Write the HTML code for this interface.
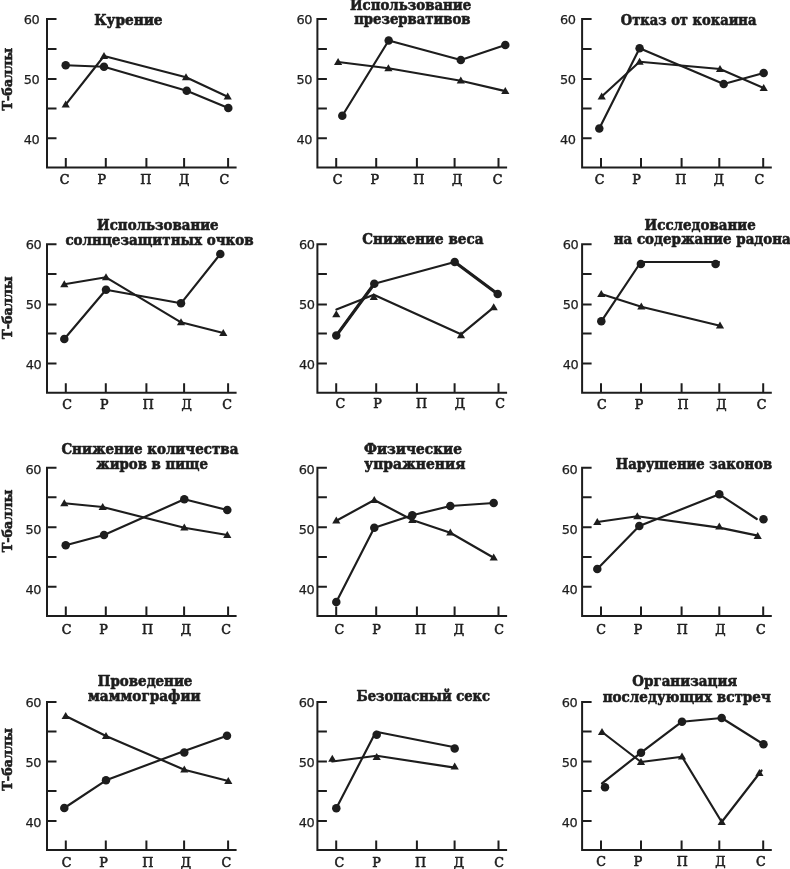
<!DOCTYPE html>
<html lang="ru"><head><meta charset="utf-8"><title>Т-баллы</title>
<style>html,body{margin:0;padding:0;background:#fff}svg{display:block;will-change:transform}.t{font-family:"DejaVu Serif","Liberation Serif",serif;font-weight:bold;fill:#1d1d1d;stroke:#1d1d1d;stroke-width:.6;stroke-linejoin:round}.y{font-family:"DejaVu Sans","Liberation Sans",sans-serif;fill:#1d1d1d;stroke:#1d1d1d;stroke-width:.25;letter-spacing:-.5px}.x{font-family:"DejaVu Serif","Liberation Serif",serif;fill:#1d1d1d;stroke:#1d1d1d;stroke-width:.6;stroke-linejoin:round}.ax{stroke:#1d1d1d;stroke-width:2;fill:none;stroke-linecap:butt;stroke-linejoin:miter}.ln{stroke:#1d1d1d;stroke-width:2.15;fill:none;stroke-linejoin:round;stroke-linecap:round}.m{fill:#1d1d1d}</style></head><body>
<svg width="790" height="869" viewBox="0 0 790 869">
<rect width="790" height="869" fill="#fff"/>
<g>
<path class="ax" d="M56.5 19.1H47.0V167.5H236.6M47.0 49.0H56.5M47.0 79.0H56.5M47.0 108.6H56.5M47.0 138.3H56.5M65.8 167.5V158.0M105.8 167.5V158.0M146.4 167.5V158.0M184.1 167.5V158.0M228.1 167.5V158.0"/>
<text class="y" font-size="12.9" text-anchor="end" x="39.1" y="23.6">60</text>
<text class="y" font-size="12.9" text-anchor="end" x="39.1" y="83.6">50</text>
<text class="y" font-size="12.9" text-anchor="end" x="39.1" y="143.7">40</text>
<text class="x" font-size="12.7" text-anchor="middle" x="64.7" y="184.2">С</text>
<text class="x" font-size="12.7" text-anchor="middle" x="101.7" y="184.2">Р</text>
<text class="x" font-size="12.7" text-anchor="middle" x="145.8" y="184.2">П</text>
<text class="x" font-size="12.7" text-anchor="middle" x="184.1" y="184.2">Д</text>
<text class="x" font-size="12.7" text-anchor="middle" x="224.4" y="184.2">С</text>
<text class="t" font-size="13.6" text-anchor="middle" transform="translate(11.8 79.2) rotate(-90)" textLength="62.6" lengthAdjust="spacingAndGlyphs">Т-баллы</text>
<text class="t" font-size="13.9" x="94.2" y="24.6" textLength="68.3" lengthAdjust="spacingAndGlyphs">Курение</text>
<polyline class="ln" points="65.7,104.7 104.0,56.0 186.0,77.3 227.7,96.7"/>
<polyline class="ln" points="65.7,65.3 104.0,66.7 186.7,90.7 228.3,108.0"/>
<path class="m" d="M65.7 100.6l4.1 7h-8.2z"/>
<path class="m" d="M104.0 51.9l4.1 7h-8.2z"/>
<path class="m" d="M186.0 73.2l4.1 7h-8.2z"/>
<path class="m" d="M227.7 92.6l4.1 7h-8.2z"/>
<circle class="m" cx="65.7" cy="65.3" r="4.25"/>
<circle class="m" cx="104.0" cy="66.7" r="4.25"/>
<circle class="m" cx="186.7" cy="90.7" r="4.25"/>
<circle class="m" cx="228.3" cy="108.0" r="4.25"/>
</g>
<g>
<path class="ax" d="M326.9 19.1H317.4V167.5H507.1M317.4 49.0H326.9M317.4 79.0H326.9M317.4 108.6H326.9M317.4 138.3H326.9M336.2 167.5V158.0M376.2 167.5V158.0M416.9 167.5V158.0M454.6 167.5V158.0M498.5 167.5V158.0"/>
<text class="y" font-size="12.9" text-anchor="end" x="312.0" y="23.6">60</text>
<text class="y" font-size="12.9" text-anchor="end" x="312.0" y="83.7">50</text>
<text class="y" font-size="12.9" text-anchor="end" x="312.0" y="143.7">40</text>
<text class="x" font-size="12.7" text-anchor="middle" x="337.7" y="184.2">С</text>
<text class="x" font-size="12.7" text-anchor="middle" x="374.7" y="184.2">Р</text>
<text class="x" font-size="12.7" text-anchor="middle" x="418.8" y="184.2">П</text>
<text class="x" font-size="12.7" text-anchor="middle" x="457.1" y="184.2">Д</text>
<text class="x" font-size="12.7" text-anchor="middle" x="497.5" y="184.2">С</text>
<text class="t" font-size="13.9" x="350.0" y="9.8" textLength="121.2" lengthAdjust="spacingAndGlyphs">Использование</text>
<text class="t" font-size="13.9" x="354.2" y="24.0" textLength="116.2" lengthAdjust="spacingAndGlyphs">презервативов</text>
<polyline class="ln" points="338.1,62.0 388.4,68.3 460.8,80.7 505.3,91.1"/>
<polyline class="ln" points="342.3,115.7 388.7,40.5 460.8,60.0 505.3,45.0"/>
<path class="m" d="M338.1 57.9l4.1 7h-8.2z"/>
<path class="m" d="M388.4 64.2l4.1 7h-8.2z"/>
<path class="m" d="M460.8 76.6l4.1 7h-8.2z"/>
<path class="m" d="M505.3 87.0l4.1 7h-8.2z"/>
<circle class="m" cx="342.3" cy="115.7" r="4.25"/>
<circle class="m" cx="388.7" cy="40.5" r="4.25"/>
<circle class="m" cx="460.8" cy="60.0" r="4.25"/>
<circle class="m" cx="505.3" cy="45.0" r="4.25"/>
</g>
<g>
<path class="ax" d="M591.6 19.1H582.1V167.5H771.8M582.1 49.0H591.6M582.1 79.0H591.6M582.1 108.6H591.6M582.1 138.3H591.6M601.0 167.5V158.0M641.0 167.5V158.0M681.6 167.5V158.0M719.3 167.5V158.0M763.2 167.5V158.0"/>
<text class="y" font-size="12.9" text-anchor="end" x="575.4" y="23.6">60</text>
<text class="y" font-size="12.9" text-anchor="end" x="575.4" y="83.7">50</text>
<text class="y" font-size="12.9" text-anchor="end" x="575.4" y="143.7">40</text>
<text class="x" font-size="12.7" text-anchor="middle" x="599.6" y="184.2">С</text>
<text class="x" font-size="12.7" text-anchor="middle" x="636.6" y="184.2">Р</text>
<text class="x" font-size="12.7" text-anchor="middle" x="680.7" y="184.2">П</text>
<text class="x" font-size="12.7" text-anchor="middle" x="719.0" y="184.2">Д</text>
<text class="x" font-size="12.7" text-anchor="middle" x="759.4" y="184.2">С</text>
<text class="t" font-size="13.9" x="620.8" y="24.6" textLength="135.6" lengthAdjust="spacingAndGlyphs">Отказ от кокаина</text>
<polyline class="ln" points="601.7,96.5 639.6,61.8 720.0,69.0 763.7,88.0"/>
<polyline class="ln" points="599.3,128.5 639.6,48.2 723.7,84.0 763.7,73.0"/>
<path class="m" d="M601.7 92.4l4.1 7h-8.2z"/>
<path class="m" d="M639.6 57.7l4.1 7h-8.2z"/>
<path class="m" d="M720.0 64.9l4.1 7h-8.2z"/>
<path class="m" d="M763.7 83.9l4.1 7h-8.2z"/>
<circle class="m" cx="599.3" cy="128.5" r="4.25"/>
<circle class="m" cx="639.6" cy="48.2" r="4.25"/>
<circle class="m" cx="723.7" cy="84.0" r="4.25"/>
<circle class="m" cx="763.7" cy="73.0" r="4.25"/>
</g>
<g>
<path class="ax" d="M56.5 244.3H47.0V392.7H236.6M47.0 274.0H56.5M47.0 304.4H56.5M47.0 333.5H56.5M47.0 363.6H56.5M65.8 392.7V383.2M105.8 392.7V383.2M146.4 392.7V383.2M184.1 392.7V383.2M228.1 392.7V383.2"/>
<text class="y" font-size="12.9" text-anchor="end" x="41.1" y="249.1">60</text>
<text class="y" font-size="12.9" text-anchor="end" x="41.1" y="309.1">50</text>
<text class="y" font-size="12.9" text-anchor="end" x="41.1" y="369.2">40</text>
<text class="x" font-size="12.7" text-anchor="middle" x="67.2" y="408.5">С</text>
<text class="x" font-size="12.7" text-anchor="middle" x="104.2" y="408.5">Р</text>
<text class="x" font-size="12.7" text-anchor="middle" x="148.3" y="408.5">П</text>
<text class="x" font-size="12.7" text-anchor="middle" x="186.7" y="408.5">Д</text>
<text class="x" font-size="12.7" text-anchor="middle" x="227.0" y="408.5">С</text>
<text class="t" font-size="13.6" text-anchor="middle" transform="translate(11.8 307.6) rotate(-90)" textLength="62.6" lengthAdjust="spacingAndGlyphs">Т-баллы</text>
<text class="t" font-size="13.9" x="97.1" y="229.8" textLength="121.5" lengthAdjust="spacingAndGlyphs">Использование</text>
<text class="t" font-size="13.9" x="65.4" y="244.9" textLength="188.2" lengthAdjust="spacingAndGlyphs">солнцезащитных очков</text>
<polyline class="ln" points="64.3,284.3 106.0,277.3 181.0,322.3 223.3,333.0"/>
<polyline class="ln" points="64.3,339.0 106.0,289.7 181.0,303.3 220.3,254.0"/>
<path class="m" d="M64.3 280.2l4.1 7h-8.2z"/>
<path class="m" d="M106.0 273.2l4.1 7h-8.2z"/>
<path class="m" d="M181.0 318.2l4.1 7h-8.2z"/>
<path class="m" d="M223.3 328.9l4.1 7h-8.2z"/>
<circle class="m" cx="64.3" cy="339.0" r="4.25"/>
<circle class="m" cx="106.0" cy="289.7" r="4.25"/>
<circle class="m" cx="181.0" cy="303.3" r="4.25"/>
<circle class="m" cx="220.3" cy="254.0" r="4.25"/>
</g>
<g>
<path class="ax" d="M326.9 244.3H317.4V392.7H507.1M317.4 274.0H326.9M317.4 304.4H326.9M317.4 333.5H326.9M317.4 363.6H326.9M336.2 392.7V383.2M376.2 392.7V383.2M416.9 392.7V383.2M454.6 392.7V383.2M498.5 392.7V383.2"/>
<text class="y" font-size="12.9" text-anchor="end" x="314.5" y="249.0">60</text>
<text class="y" font-size="12.9" text-anchor="end" x="314.5" y="309.0">50</text>
<text class="y" font-size="12.9" text-anchor="end" x="314.5" y="369.1">40</text>
<text class="x" font-size="12.7" text-anchor="middle" x="340.4" y="408.2">С</text>
<text class="x" font-size="12.7" text-anchor="middle" x="377.4" y="408.2">Р</text>
<text class="x" font-size="12.7" text-anchor="middle" x="421.5" y="408.2">П</text>
<text class="x" font-size="12.7" text-anchor="middle" x="459.8" y="408.2">Д</text>
<text class="x" font-size="12.7" text-anchor="middle" x="500.2" y="408.2">С</text>
<text class="t" font-size="13.9" x="362.3" y="244.3" textLength="121.1" lengthAdjust="spacingAndGlyphs">Снижение веса</text>
<polyline class="ln" points="336.4,309.5 373.8,294.8 461.0,334.3 493.7,307.3"/>
<polyline class="ln" points="336.3,335.6 374.3,283.7 454.7,262.0 497.7,294.0"/>
<path class="ln" style="stroke-width:3.2" d="M336.3 335.6L374.3 283.7"/>
<path class="ln" style="stroke-width:3.2" d="M454.7 262.0L497.7 294.0"/>
<path class="m" d="M336.3 310.2l4.1 7h-8.2z"/>
<path class="m" d="M373.8 292.9l4.1 7h-8.2z"/>
<path class="m" d="M461.0 331.2l4.1 7h-8.2z"/>
<path class="m" d="M493.7 303.2l4.1 7h-8.2z"/>
<circle class="m" cx="336.3" cy="335.6" r="4.25"/>
<circle class="m" cx="374.3" cy="283.7" r="4.25"/>
<circle class="m" cx="454.7" cy="262.0" r="4.25"/>
<circle class="m" cx="497.7" cy="294.0" r="4.25"/>
</g>
<g>
<path class="ax" d="M591.6 244.3H582.1V392.7H771.8M582.1 274.0H591.6M582.1 304.4H591.6M582.1 333.5H591.6M582.1 363.6H591.6M601.0 392.7V383.2M641.0 392.7V383.2M681.6 392.7V383.2M719.3 392.7V383.2M763.2 392.7V383.2"/>
<text class="y" font-size="12.9" text-anchor="end" x="578.1" y="249.1">60</text>
<text class="y" font-size="12.9" text-anchor="end" x="578.1" y="309.1">50</text>
<text class="y" font-size="12.9" text-anchor="end" x="578.1" y="369.2">40</text>
<text class="x" font-size="12.7" text-anchor="middle" x="601.9" y="408.5">С</text>
<text class="x" font-size="12.7" text-anchor="middle" x="638.9" y="408.5">Р</text>
<text class="x" font-size="12.7" text-anchor="middle" x="683.0" y="408.5">П</text>
<text class="x" font-size="12.7" text-anchor="middle" x="721.3" y="408.5">Д</text>
<text class="x" font-size="12.7" text-anchor="middle" x="761.7" y="408.5">С</text>
<text class="t" font-size="13.9" x="644.6" y="229.6" textLength="111.1" lengthAdjust="spacingAndGlyphs">Исследование</text>
<text class="t" font-size="13.9" x="613.7" y="244.2" textLength="177.1" lengthAdjust="spacingAndGlyphs">на содержание радона</text>
<polyline class="ln" points="601.3,294.0 641.3,306.7 720.0,325.7"/>
<polyline class="ln" points="601.3,321.3 640.9,262.0 719.0,262.0"/>
<path class="m" d="M601.3 289.9l4.1 7h-8.2z"/>
<path class="m" d="M641.3 302.6l4.1 7h-8.2z"/>
<path class="m" d="M720.0 321.6l4.1 7h-8.2z"/>
<circle class="m" cx="601.3" cy="321.3" r="4.25"/>
<circle class="m" cx="640.9" cy="264.1" r="4.25"/>
<circle class="m" cx="715.6" cy="264.1" r="4.25"/>
</g>
<g>
<path class="ax" d="M56.5 467.8H47.0V615.9H236.6M47.0 497.2H56.5M47.0 527.2H56.5M47.0 556.9H56.5M47.0 586.8H56.5M65.8 615.9V606.4M105.8 615.9V606.4M146.4 615.9V606.4M184.1 615.9V606.4M228.1 615.9V606.4"/>
<text class="y" font-size="12.9" text-anchor="end" x="40.9" y="473.7">60</text>
<text class="y" font-size="12.9" text-anchor="end" x="40.9" y="533.7">50</text>
<text class="y" font-size="12.9" text-anchor="end" x="40.9" y="593.8">40</text>
<text class="x" font-size="12.7" text-anchor="middle" x="66.5" y="633.8">С</text>
<text class="x" font-size="12.7" text-anchor="middle" x="103.5" y="633.8">Р</text>
<text class="x" font-size="12.7" text-anchor="middle" x="147.6" y="633.8">П</text>
<text class="x" font-size="12.7" text-anchor="middle" x="185.9" y="633.8">Д</text>
<text class="x" font-size="12.7" text-anchor="middle" x="226.2" y="633.8">С</text>
<text class="t" font-size="13.6" text-anchor="middle" transform="translate(11.8 521.0) rotate(-90)" textLength="62.6" lengthAdjust="spacingAndGlyphs">Т-баллы</text>
<text class="t" font-size="13.9" x="61.4" y="454.2" textLength="177.0" lengthAdjust="spacingAndGlyphs">Снижение количества</text>
<text class="t" font-size="13.9" x="96.2" y="468.9" textLength="111.8" lengthAdjust="spacingAndGlyphs">жиров в пище</text>
<polyline class="ln" points="64.3,503.3 102.7,507.0 184.3,527.7 227.3,535.0"/>
<polyline class="ln" points="65.7,545.3 104.0,535.0 184.3,499.3 227.3,510.0"/>
<path class="m" d="M64.3 499.2l4.1 7h-8.2z"/>
<path class="m" d="M102.7 502.9l4.1 7h-8.2z"/>
<path class="m" d="M184.3 523.6l4.1 7h-8.2z"/>
<path class="m" d="M227.3 530.9l4.1 7h-8.2z"/>
<circle class="m" cx="65.7" cy="545.3" r="4.25"/>
<circle class="m" cx="104.0" cy="535.0" r="4.25"/>
<circle class="m" cx="184.3" cy="499.3" r="4.25"/>
<circle class="m" cx="227.3" cy="510.0" r="4.25"/>
</g>
<g>
<path class="ax" d="M326.9 467.8H317.4V615.9H507.1M317.4 497.2H326.9M317.4 527.2H326.9M317.4 556.9H326.9M317.4 586.8H326.9M336.2 615.9V606.4M376.2 615.9V606.4M416.9 615.9V606.4M454.6 615.9V606.4M498.5 615.9V606.4"/>
<text class="y" font-size="12.9" text-anchor="end" x="314.2" y="473.7">60</text>
<text class="y" font-size="12.9" text-anchor="end" x="314.2" y="533.7">50</text>
<text class="y" font-size="12.9" text-anchor="end" x="314.2" y="593.8">40</text>
<text class="x" font-size="12.7" text-anchor="middle" x="339.4" y="633.8">С</text>
<text class="x" font-size="12.7" text-anchor="middle" x="376.4" y="633.8">Р</text>
<text class="x" font-size="12.7" text-anchor="middle" x="420.6" y="633.8">П</text>
<text class="x" font-size="12.7" text-anchor="middle" x="458.9" y="633.8">Д</text>
<text class="x" font-size="12.7" text-anchor="middle" x="499.2" y="633.8">С</text>
<text class="t" font-size="13.9" x="363.9" y="454.0" textLength="98.1" lengthAdjust="spacingAndGlyphs">Физические</text>
<text class="t" font-size="13.9" x="364.3" y="468.9" textLength="101.1" lengthAdjust="spacingAndGlyphs">упражнения</text>
<polyline class="ln" points="336.3,520.7 374.3,500.0 412.3,520.0 450.3,532.7 493.7,557.7"/>
<polyline class="ln" points="336.3,602.0 374.3,527.7 412.3,515.3 450.3,506.0 493.7,503.0"/>
<path class="m" d="M336.3 516.6l4.1 7h-8.2z"/>
<path class="m" d="M374.3 495.9l4.1 7h-8.2z"/>
<path class="m" d="M412.3 515.9l4.1 7h-8.2z"/>
<path class="m" d="M450.3 528.6l4.1 7h-8.2z"/>
<path class="m" d="M493.7 553.6l4.1 7h-8.2z"/>
<circle class="m" cx="336.3" cy="602.0" r="4.25"/>
<circle class="m" cx="374.3" cy="527.7" r="4.25"/>
<circle class="m" cx="412.3" cy="515.3" r="4.25"/>
<circle class="m" cx="450.3" cy="506.0" r="4.25"/>
<circle class="m" cx="493.7" cy="503.0" r="4.25"/>
</g>
<g>
<path class="ax" d="M591.6 467.8H582.1V615.9H771.8M582.1 497.2H591.6M582.1 527.2H591.6M582.1 556.9H591.6M582.1 586.8H591.6M601.0 615.9V606.4M641.0 615.9V606.4M681.6 615.9V606.4M719.3 615.9V606.4M763.2 615.9V606.4"/>
<text class="y" font-size="12.9" text-anchor="end" x="577.1" y="473.7">60</text>
<text class="y" font-size="12.9" text-anchor="end" x="577.1" y="533.7">50</text>
<text class="y" font-size="12.9" text-anchor="end" x="577.1" y="593.8">40</text>
<text class="x" font-size="12.7" text-anchor="middle" x="601.1" y="633.8">С</text>
<text class="x" font-size="12.7" text-anchor="middle" x="638.1" y="633.8">Р</text>
<text class="x" font-size="12.7" text-anchor="middle" x="682.2" y="633.8">П</text>
<text class="x" font-size="12.7" text-anchor="middle" x="720.5" y="633.8">Д</text>
<text class="x" font-size="12.7" text-anchor="middle" x="760.9" y="633.8">С</text>
<text class="t" font-size="13.9" x="615.7" y="469.1" textLength="156.5" lengthAdjust="spacingAndGlyphs">Нарушение законов</text>
<polyline class="ln" points="597.3,522.0 637.3,516.3 719.3,527.6 757.7,535.6"/>
<polyline class="ln" points="597.3,569.0 639.3,526.0 719.3,494.3 756.8,519.0"/>
<path class="m" d="M597.3 517.9l4.1 7h-8.2z"/>
<path class="m" d="M637.3 512.2l4.1 7h-8.2z"/>
<path class="m" d="M719.3 522.6l4.1 7h-8.2z"/>
<path class="m" d="M757.7 532.1l4.1 7h-8.2z"/>
<circle class="m" cx="597.3" cy="569.0" r="4.25"/>
<circle class="m" cx="639.3" cy="526.0" r="4.25"/>
<circle class="m" cx="719.3" cy="494.3" r="4.25"/>
<circle class="m" cx="763.5" cy="519.2" r="4.25"/>
</g>
<g>
<path class="ax" d="M56.5 701.9H47.0V849.9H236.6M47.0 731.4H56.5M47.0 761.5H56.5M47.0 791.0H56.5M47.0 820.9H56.5M65.8 849.9V840.4M105.8 849.9V840.4M146.4 849.9V840.4M184.1 849.9V840.4M228.1 849.9V840.4"/>
<text class="y" font-size="12.9" text-anchor="end" x="40.9" y="707.0">60</text>
<text class="y" font-size="12.9" text-anchor="end" x="40.9" y="767.1">50</text>
<text class="y" font-size="12.9" text-anchor="end" x="40.9" y="827.2">40</text>
<text class="x" font-size="12.7" text-anchor="middle" x="66.6" y="866.7">С</text>
<text class="x" font-size="12.7" text-anchor="middle" x="103.6" y="866.7">Р</text>
<text class="x" font-size="12.7" text-anchor="middle" x="147.7" y="866.7">П</text>
<text class="x" font-size="12.7" text-anchor="middle" x="186.0" y="866.7">Д</text>
<text class="x" font-size="12.7" text-anchor="middle" x="226.3" y="866.7">С</text>
<text class="t" font-size="13.6" text-anchor="middle" transform="translate(11.8 759.4) rotate(-90)" textLength="62.6" lengthAdjust="spacingAndGlyphs">Т-баллы</text>
<text class="t" font-size="13.9" x="97.8" y="686.0" textLength="94.6" lengthAdjust="spacingAndGlyphs">Проведение</text>
<text class="t" font-size="13.9" x="88.0" y="701.4" textLength="112.6" lengthAdjust="spacingAndGlyphs">маммографии</text>
<polyline class="ln" points="65.7,716.0 106.0,736.0 184.3,769.7 228.3,781.0"/>
<polyline class="ln" points="64.3,808.0 106.0,780.3 184.3,751.0 227.0,735.7"/>
<path class="m" d="M65.7 711.9l4.1 7h-8.2z"/>
<path class="m" d="M106.0 731.9l4.1 7h-8.2z"/>
<path class="m" d="M184.3 765.6l4.1 7h-8.2z"/>
<path class="m" d="M228.3 776.9l4.1 7h-8.2z"/>
<circle class="m" cx="64.3" cy="808.0" r="4.25"/>
<circle class="m" cx="106.0" cy="780.3" r="4.25"/>
<circle class="m" cx="184.3" cy="752.4" r="4.25"/>
<circle class="m" cx="227.0" cy="735.7" r="4.25"/>
</g>
<g>
<path class="ax" d="M326.9 701.9H317.4V849.9H507.1M317.4 731.4H326.9M317.4 761.5H326.9M317.4 791.0H326.9M317.4 820.9H326.9M336.2 849.9V840.4M376.2 849.9V840.4M416.9 849.9V840.4M454.6 849.9V840.4M498.5 849.9V840.4"/>
<text class="y" font-size="12.9" text-anchor="end" x="314.1" y="707.0">60</text>
<text class="y" font-size="12.9" text-anchor="end" x="314.1" y="767.1">50</text>
<text class="y" font-size="12.9" text-anchor="end" x="314.1" y="827.2">40</text>
<text class="x" font-size="12.7" text-anchor="middle" x="339.4" y="866.5">С</text>
<text class="x" font-size="12.7" text-anchor="middle" x="376.4" y="866.5">Р</text>
<text class="x" font-size="12.7" text-anchor="middle" x="420.6" y="866.5">П</text>
<text class="x" font-size="12.7" text-anchor="middle" x="458.9" y="866.5">Д</text>
<text class="x" font-size="12.7" text-anchor="middle" x="499.2" y="866.5">С</text>
<text class="t" font-size="13.9" x="356.5" y="701.4" textLength="133.5" lengthAdjust="spacingAndGlyphs">Безопасный секс</text>
<polyline class="ln" points="332.3,761.5 376.7,755.8 454.6,767.6"/>
<polyline class="ln" points="336.3,808.3 375.9,731.8 454.6,747.2"/>
<path class="m" d="M332.3 754.7l4.1 7h-8.2z"/>
<path class="m" d="M376.7 753.1l4.1 7h-8.2z"/>
<path class="m" d="M454.7 762.5l4.1 7h-8.2z"/>
<circle class="m" cx="336.3" cy="808.3" r="4.25"/>
<circle class="m" cx="376.7" cy="734.8" r="4.25"/>
<circle class="m" cx="454.7" cy="748.5" r="4.25"/>
</g>
<g>
<path class="ax" d="M591.6 701.9H582.1V849.9H771.8M582.1 731.4H591.6M582.1 761.5H591.6M582.1 791.0H591.6M582.1 820.9H591.6M601.0 849.9V840.4M641.0 849.9V840.4M681.6 849.9V840.4M719.3 849.9V840.4M763.2 849.9V840.4"/>
<text class="y" font-size="12.9" text-anchor="end" x="577.2" y="707.0">60</text>
<text class="y" font-size="12.9" text-anchor="end" x="577.2" y="767.1">50</text>
<text class="y" font-size="12.9" text-anchor="end" x="577.2" y="827.2">40</text>
<text class="x" font-size="12.7" text-anchor="middle" x="601.1" y="866.3">С</text>
<text class="x" font-size="12.7" text-anchor="middle" x="638.1" y="866.3">Р</text>
<text class="x" font-size="12.7" text-anchor="middle" x="682.2" y="866.3">П</text>
<text class="x" font-size="12.7" text-anchor="middle" x="720.5" y="866.3">Д</text>
<text class="x" font-size="12.7" text-anchor="middle" x="760.9" y="866.3">С</text>
<text class="t" font-size="13.9" x="632.3" y="686.1" textLength="105.0" lengthAdjust="spacingAndGlyphs">Организация</text>
<text class="t" font-size="13.9" x="602.7" y="701.7" textLength="168.1" lengthAdjust="spacingAndGlyphs">последующих встреч</text>
<polyline class="ln" points="602.0,732.0 641.0,762.0 682.0,756.7 721.7,822.0 761.6,770.5"/>
<polyline class="ln" points="602.0,783.3 641.0,752.7 682.0,721.7 721.7,718.0 763.5,744.3"/>
<path class="m" d="M602.0 727.9l4.1 7h-8.2z"/>
<path class="m" d="M641.0 757.9l4.1 7h-8.2z"/>
<path class="m" d="M682.0 752.6l4.1 7h-8.2z"/>
<path class="m" d="M721.7 817.9l4.1 7h-8.2z"/>
<path class="m" d="M759.4 769.1l4.1 7h-8.2z"/>
<circle class="m" cx="605.0" cy="787.3" r="4.25"/>
<circle class="m" cx="641.0" cy="752.7" r="4.25"/>
<circle class="m" cx="682.0" cy="721.7" r="4.25"/>
<circle class="m" cx="721.7" cy="718.0" r="4.25"/>
<circle class="m" cx="763.5" cy="744.2" r="4.25"/>
</g>
</svg></body></html>
